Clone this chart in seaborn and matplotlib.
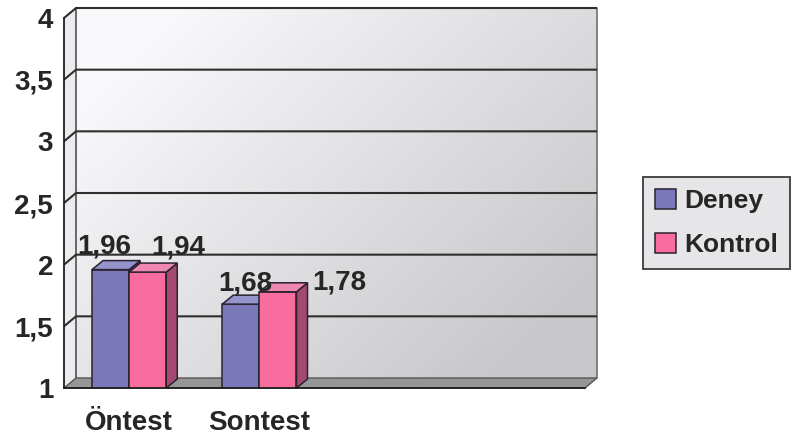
import numpy as np
import pandas as pd
import matplotlib
matplotlib.use("Agg")
import matplotlib.pyplot as plt
import matplotlib.transforms as mtransforms
from matplotlib.patches import Polygon, Patch
import seaborn as sns

# ---- data -------------------------------------------------------------
categories = ["Öntest", "Sontest"]
groups = ["Deney", "Kontrol"]
deney = [1.96, 1.68]
kontrol = [1.94, 1.78]
y_ticks = [1, 1.5, 2, 2.5, 3, 3.5, 4]
y_tick_labels = ["1", "1,5", "2", "2,5", "3", "3,5", "4"]
n_slots = 4  # category slots along the x axis (the last two stay empty)

# ---- styling ----------------------------------------------------------
front_colors = {"Deney": "#7a78b8", "Kontrol": "#f86c9e"}
side_colors = {"Deney": "#4b4a80", "Kontrol": "#a44a70"}
top_colors = {"Deney": "#9493cc", "Kontrol": "#ee88b0"}
edge_col = "#2a2230"
text_col = "#262626"
wall_depth = (12, 10)   # pixel offset of the back wall
bar_depth = (11, 9)     # pixel depth of each bar
# value-label offsets in pixels from the top centre of each bar
label_offsets = [[(-6, 23), (31, 25)], [(4, 21), (61, 9)]]

sns.set_style("white")
plt.rcParams["font.family"] = ["Liberation Sans", "DejaVu Sans"]
plt.rcParams["font.weight"] = "bold"

df = pd.DataFrame({
    "test": categories * 2,
    "group": [groups[0]] * len(categories) + [groups[1]] * len(categories),
    "value": deney + kontrol,
})

W, H = 794, 436
fig = plt.figure(figsize=(W / 100, H / 100), dpi=100)

# background layer in pixel coordinates (walls, floor, gridlines)
bg = fig.add_axes([0, 0, 1, 1], zorder=-1)
bg.set_xlim(0, W)
bg.set_ylim(0, H)
bg.axis("off")

ax = fig.add_axes([64 / W, 48 / H, 521 / W, 370 / H])
ax.set_facecolor("none")

sns.barplot(data=df, x="test", y="value", hue="group", order=categories,
            hue_order=groups, palette=front_colors, saturation=1,
            width=0.57, errorbar=None, edgecolor=edge_col, linewidth=1.1,
            zorder=3, ax=ax)
ax.get_legend().remove()
ax.set_xlim(-0.5, n_slots - 0.5)
ax.set_ylim(y_ticks[0], y_ticks[-1])
ax.set_xlabel("")
ax.set_ylabel("")

def px(x, y):
    return ax.transData.transform((x, y))

ID = mtransforms.IdentityTransform()
wdx, wdy = wall_depth
(fx0, fy0) = px(-0.5, y_ticks[0])
(fx1, fy1) = px(n_slots - 0.5, y_ticks[-1])

# back wall with a soft grey gradient
u = np.linspace(0, 1, 300)
v = np.linspace(0, 1, 200)
U, V = np.meshgrid(u, v)
shade = 0.975 - 0.19 * np.clip(0.75 * U + 0.55 * V - 0.15, 0, 1)
rgb = np.clip(np.dstack([shade, shade, shade * 1.01]), 0, 1)
bg.imshow(rgb, extent=(fx0 + wdx, fx1 + wdx, fy0 + wdy, fy1 + wdy),
          origin="upper", aspect="auto", interpolation="bilinear", zorder=0)
bg.set_xlim(0, W)
bg.set_ylim(0, H)
bg.plot([fx1 + wdx, fx1 + wdx], [fy0 + wdy, fy1 + wdy], color="#707070",
        lw=1.2, zorder=1)

# left side wall
bg.add_patch(Polygon([(fx0, fy0), (fx0 + wdx, fy0 + wdy),
                      (fx0 + wdx, fy1 + wdy), (fx0, fy1)],
                     closed=True, facecolor="#ececee", edgecolor="none",
                     zorder=1))
bg.plot([fx0 + wdx, fx0 + wdx], [fy0 + wdy, fy1 + wdy], color="#5a4a55",
        lw=1.2, zorder=2)

# gridlines on the back wall plus the short diagonals on the side wall
for t in y_ticks[1:]:
    gx, gy = px(-0.5, t)
    bg.plot([gx, gx + wdx, fx1 + wdx], [gy, gy + wdy, gy + wdy],
            color="#2e2e2e", lw=1.5, zorder=2, solid_capstyle="butt")

# floor
bg.add_patch(Polygon([(fx0, fy0), (fx1, fy0), (fx1 + wdx, fy0 + wdy),
                      (fx0 + wdx, fy0 + wdy)], closed=True,
                     facecolor="#969696", edgecolor="#555555", lw=1.0,
                     zorder=3))

# 3-D side and top faces of each bar; later series sit in front
bdx, bdy = bar_depth
for gi, (g, cont) in enumerate(zip(groups, ax.containers)):
    z = 3 + gi
    for ci, bar in enumerate(cont):
        bar.set_zorder(z)
        x = bar.get_x()
        w = bar.get_width()
        h = bar.get_height()
        xl, yb = px(x, y_ticks[0])
        xr, yt = px(x + w, h)
        side = Polygon([(xr, yb), (xr, yt), (xr + bdx, yt + bdy),
                        (xr + bdx, yb + bdy)], closed=True,
                       facecolor=side_colors[g], edgecolor=edge_col, lw=1.1,
                       transform=ID, zorder=z + 0.5, clip_on=False)
        top = Polygon([(xl, yt), (xr, yt), (xr + bdx, yt + bdy),
                       (xl + bdx, yt + bdy)], closed=True,
                      facecolor=top_colors[g], edgecolor=edge_col, lw=1.1,
                      transform=ID, zorder=z + 0.5, clip_on=False)
        ax.add_patch(side)
        ax.add_patch(top)

# value labels
values = [deney, kontrol]
for gi, cont in enumerate(ax.containers):
    for ci, bar in enumerate(cont):
        val = values[gi][ci]
        ox, oy = label_offsets[ci][gi]
        ax.annotate(f"{val:.2f}".replace(".", ","),
                    xy=(bar.get_x() + bar.get_width() / 2, val),
                    xytext=(ox, oy), textcoords="offset pixels",
                    ha="center", va="center", fontsize=20,
                    fontweight="bold", color=text_col, zorder=8,
                    annotation_clip=False)

# axes, ticks and labels
for s in ["top", "right"]:
    ax.spines[s].set_visible(False)
for s in ["left", "bottom"]:
    ax.spines[s].set_color("#1e1e1e")
    ax.spines[s].set_linewidth(1.3)
    ax.spines[s].set_zorder(7)

ax.set_yticks(y_ticks, labels=y_tick_labels)
ax.set_xticks(np.arange(n_slots + 1) - 0.5, labels=[""] * (n_slots + 1))
ax.set_xticks(np.arange(len(categories)), labels=categories, minor=True)
ax.tick_params(axis="y", length=5.8, width=1.2, pad=2, color="#1e1e1e",
               labelsize=20, labelcolor=text_col)
ax.tick_params(axis="x", which="major", length=5.8, width=1.2,
               color="#1e1e1e")
ax.tick_params(axis="x", which="minor", length=0, pad=16, labelsize=20,
               labelcolor=text_col)
for lab in ax.get_xticklabels(minor=True) + ax.get_yticklabels():
    lab.set_fontweight("bold")

# legend
handles = [Patch(facecolor=front_colors[g], edgecolor=edge_col, lw=1.1)
           for g in groups]
leg = fig.legend(handles, groups, loc="upper left",
                 bbox_to_anchor=(643 / W, 1 - 177 / H),
                 bbox_transform=fig.transFigure, frameon=True,
                 fancybox=False, edgecolor="#3c3c3c", facecolor="#e6e6e8",
                 framealpha=1, prop={"size": 19, "weight": "bold"},
                 handlelength=0.8, handleheight=0.8, handletextpad=0.3,
                 labelspacing=0.75, borderpad=0.45, borderaxespad=0)
leg.get_frame().set_linewidth(1.3)
for t in leg.get_texts():
    t.set_color(text_col)

fig.savefig("out.png", dpi=100)
